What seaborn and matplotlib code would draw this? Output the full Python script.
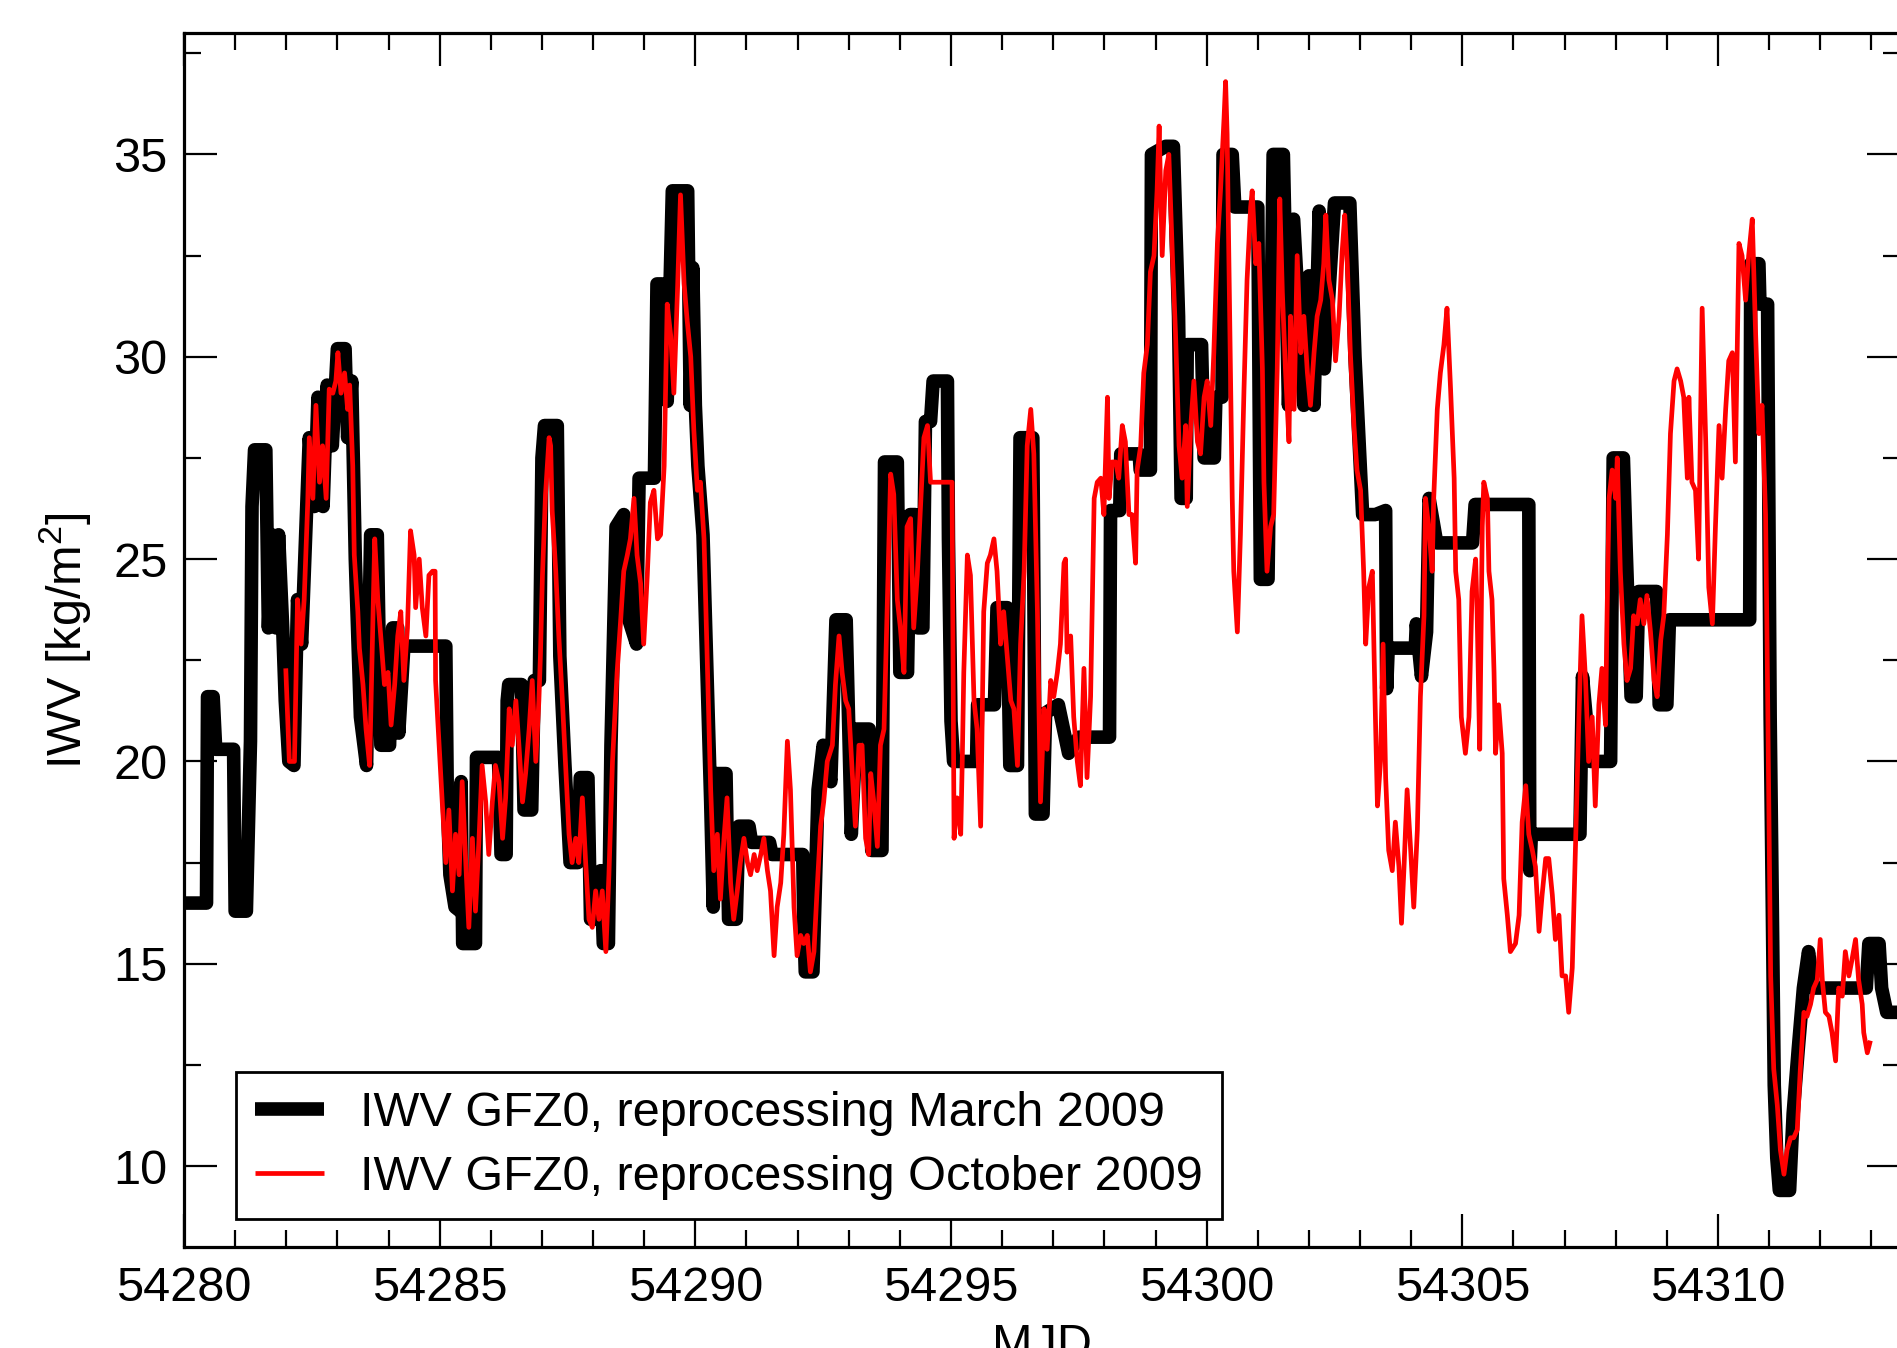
import matplotlib
matplotlib.use("Agg")
import matplotlib.pyplot as plt
import seaborn as sns
from matplotlib.lines import Line2D
from matplotlib.ticker import MultipleLocator, FormatStrFormatter

# IWV GFZ0, reprocessing March 2009 (MJD, kg/m^2)
march_mjd = [
    54280.0, 54280.44, 54280.46, 54280.57, 54280.62, 54280.97, 54281.0, 54281.22, 54281.3, 54281.33,
    54281.38, 54281.6, 54281.65, 54281.72, 54281.8, 54281.85, 54281.93, 54281.98, 54282.05, 54282.15,
    54282.22, 54282.3, 54282.4, 54282.45, 54282.55, 54282.62, 54282.72, 54282.8, 54282.9, 54283.0,
    54283.15, 54283.2, 54283.28, 54283.35, 54283.45, 54283.57, 54283.65, 54283.78, 54283.85, 54284.02,
    54284.08, 54284.18, 54284.2, 54284.3, 54285.12, 54285.15, 54285.2, 54285.3, 54285.4, 54285.42,
    54285.45, 54285.7, 54285.72, 54286.15, 54286.2, 54286.3, 54286.32, 54286.35, 54286.6, 54286.65,
    54286.8, 54286.85, 54286.95, 54287.0, 54287.05, 54287.3, 54287.35, 54287.45, 54287.55, 54287.7,
    54287.75, 54287.9, 54287.95, 54288.1, 54288.15, 54288.2, 54288.3, 54288.35, 54288.45, 54288.6,
    54288.7, 54288.85, 54288.9, 54289.2, 54289.25, 54289.35, 54289.45, 54289.55, 54289.85, 54289.9,
    54289.95, 54290.0, 54290.05, 54290.15, 54290.3, 54290.35, 54290.4, 54290.6, 54290.65, 54290.8,
    54290.85, 54291.05, 54291.1, 54291.45, 54291.5, 54292.1, 54292.12, 54292.15, 54292.3, 54292.4,
    54292.5, 54292.65, 54292.75, 54292.95, 54293.05, 54293.15, 54293.4, 54293.45, 54293.65, 54293.7,
    54293.95, 54294.0, 54294.15, 54294.2, 54294.3, 54294.35, 54294.45, 54294.5, 54294.6, 54294.65,
    54294.93, 54294.95, 54295.0, 54295.05, 54295.5, 54295.52, 54295.85, 54295.9, 54296.1, 54296.15,
    54296.3, 54296.35, 54296.6, 54296.65, 54296.8, 54296.85, 54297.1, 54297.3, 54297.5, 54298.1,
    54298.12, 54298.3, 54298.32, 54298.68, 54298.7, 54298.9, 54298.92, 54299.2, 54299.35, 54299.45,
    54299.5, 54299.6, 54299.62, 54299.9, 54299.95, 54300.15, 54300.18, 54300.3, 54300.32, 54300.5,
    54300.55, 54301.0, 54301.05, 54301.2, 54301.3, 54301.5, 54301.6, 54301.7, 54301.9, 54302.0,
    54302.1, 54302.2, 54302.3, 54302.5, 54302.8, 54302.9, 54303.05, 54303.3, 54303.5, 54303.52,
    54303.55, 54304.08, 54304.1, 54304.2, 54304.3, 54304.35, 54304.5, 54305.2, 54305.25, 54306.3,
    54306.32, 54306.35, 54307.3, 54307.35, 54307.5, 54307.9, 54307.95, 54308.15, 54308.2, 54308.3,
    54308.4, 54308.45, 54308.8, 54308.85, 54309.0, 54309.05, 54310.62, 54310.64, 54310.8, 54310.82,
    54310.97, 54311.02, 54311.05, 54311.1, 54311.15, 54311.2, 54311.4, 54311.47, 54311.57, 54311.67,
    54311.77, 54311.87, 54312.9, 54312.95, 54313.15, 54313.2, 54313.3, 54313.6,
]
march_iwv = [
    16.5, 16.5, 21.6, 21.6, 20.3, 20.3, 16.3, 16.3, 20.5, 26.3,
    27.7, 27.7, 23.3, 25.6, 23.3, 25.6, 23.3, 21.5, 20.0, 19.9,
    24.0, 22.9, 26.3, 28.0, 26.3, 29.0, 26.3, 29.3, 27.8, 30.2,
    30.2, 28.0, 29.4, 25.0, 21.1, 19.9, 25.6, 25.6, 20.4, 20.4,
    23.3, 23.3, 20.7, 22.85, 22.85, 19.0, 17.2, 16.4, 16.3, 19.5,
    15.5, 15.5, 20.1, 20.1, 17.7, 17.7, 21.5, 21.9, 21.9, 18.8,
    18.8, 22.0, 22.0, 27.5, 28.3, 28.3, 22.6, 19.9, 17.5, 17.5,
    19.6, 19.6, 16.1, 16.1, 17.3, 15.5, 15.5, 20.4, 25.8, 26.1,
    23.5, 22.9, 27.0, 27.0, 31.8, 31.8, 28.9, 34.1, 34.1, 28.8,
    32.2, 28.8, 27.3, 25.6, 19.0, 16.4, 19.7, 19.7, 16.1, 16.1,
    18.4, 18.4, 18.0, 18.0, 17.7, 17.7, 16.1, 14.8, 14.8, 19.3,
    20.4, 19.5, 23.5, 23.5, 18.2, 20.8, 20.8, 17.8, 17.8, 27.4,
    27.4, 22.2, 22.2, 26.1, 26.1, 23.3, 23.3, 28.4, 28.4, 29.4,
    29.4, 25.5, 21.0, 20.0, 20.0, 21.4, 21.4, 23.8, 23.8, 19.9,
    19.9, 28.0, 28.0, 18.7, 18.7, 21.2, 21.4, 20.2, 20.6, 20.6,
    26.2, 26.2, 27.6, 27.6, 27.2, 27.2, 35.0, 35.2, 35.2, 31.0,
    26.5, 26.5, 30.3, 30.3, 27.5, 27.5, 29.0, 29.0, 35.0, 35.0,
    33.7, 33.7, 24.5, 24.5, 35.0, 35.0, 28.8, 33.4, 28.8, 32.0,
    28.8, 33.6, 29.7, 33.8, 33.8, 30.0, 26.1, 26.1, 26.2, 21.8,
    22.8, 22.8, 23.4, 22.1, 23.2, 26.5, 25.4, 25.4, 26.35, 26.35,
    17.3, 18.2, 18.2, 22.1, 20.0, 20.0, 27.5, 27.5, 25.4, 21.6,
    21.6, 24.2, 24.2, 21.4, 21.4, 23.5, 23.5, 32.3, 32.3, 31.3,
    31.3, 21.1, 17.8, 12.0, 10.2, 9.4, 9.4, 11.3, 12.9, 14.4,
    15.3, 14.4, 14.4, 15.5, 15.5, 14.4, 13.8, 13.8,
]

# IWV GFZ0, reprocessing October 2009 (MJD, kg/m^2)
october_mjd = [
    54281.99, 54282.06, 54282.16, 54282.22, 54282.29, 54282.35, 54282.42, 54282.45, 54282.52, 54282.58,
    54282.65, 54282.71, 54282.78, 54282.84, 54282.91, 54282.97, 54283.01, 54283.07, 54283.14, 54283.2,
    54283.24, 54283.3, 54283.33, 54283.4, 54283.43, 54283.5, 54283.56, 54283.63, 54283.69, 54283.73,
    54283.79, 54283.86, 54283.92, 54283.99, 54284.05, 54284.12, 54284.18, 54284.24, 54284.3, 54284.37,
    54284.43, 54284.5, 54284.53, 54284.6, 54284.66, 54284.73, 54284.79, 54284.86, 54284.91, 54284.92,
    54284.99, 54285.05, 54285.12, 54285.18, 54285.25, 54285.31, 54285.38, 54285.44, 54285.51, 54285.57,
    54285.64, 54285.7, 54285.77, 54285.83, 54285.9, 54285.96, 54286.03, 54286.09, 54286.16, 54286.23,
    54286.29, 54286.36, 54286.42, 54286.49, 54286.55, 54286.62, 54286.68, 54286.75, 54286.81, 54286.88,
    54286.94, 54286.97, 54287.01, 54287.07, 54287.14, 54287.17, 54287.2, 54287.27, 54287.33, 54287.4,
    54287.46, 54287.53, 54287.59, 54287.66, 54287.72, 54287.79, 54287.855, 54287.92, 54287.985, 54288.05,
    54288.115, 54288.18, 54288.25, 54288.31, 54288.38, 54288.47, 54288.54, 54288.6, 54288.67, 54288.73,
    54288.8, 54288.86, 54288.93, 54288.99, 54289.06, 54289.12, 54289.19, 54289.26, 54289.32, 54289.39,
    54289.45, 54289.52, 54289.58, 54289.65, 54289.71, 54289.78, 54289.84, 54289.91, 54289.97, 54290.04,
    54290.1, 54290.17, 54290.23, 54290.3, 54290.36, 54290.43, 54290.49, 54290.56, 54290.62, 54290.69,
    54290.75, 54290.82, 54290.88, 54290.95, 54291.02, 54291.08, 54291.15, 54291.21, 54291.28, 54291.34,
    54291.41, 54291.47, 54291.54, 54291.6, 54291.67, 54291.73, 54291.8, 54291.86, 54291.93, 54291.99,
    54292.06, 54292.12, 54292.19, 54292.25, 54292.32, 54292.38, 54292.45, 54292.51, 54292.58, 54292.68,
    54292.74, 54292.81, 54292.87, 54292.94, 54293.0, 54293.07, 54293.13, 54293.2, 54293.26, 54293.33,
    54293.39, 54293.43, 54293.49, 54293.56, 54293.62, 54293.69, 54293.75, 54293.82, 54293.88, 54293.95,
    54294.01, 54294.08, 54294.14, 54294.21, 54294.27, 54294.34, 54294.4, 54294.47, 54294.54, 54294.6,
    54295.02, 54295.06, 54295.12, 54295.19, 54295.22, 54295.25, 54295.32, 54295.38, 54295.45, 54295.51,
    54295.58, 54295.64, 54295.71, 54295.77, 54295.84, 54295.9, 54295.97, 54296.03, 54296.1, 54296.17,
    54296.23, 54296.3, 54296.36, 54296.43, 54296.49, 54296.56, 54296.62, 54296.69, 54296.75, 54296.82,
    54296.88, 54296.95, 54297.01, 54297.08, 54297.14, 54297.21, 54297.24, 54297.27, 54297.34, 54297.4,
    54297.47, 54297.53, 54297.6, 54297.66, 54297.73, 54297.8, 54297.86, 54297.93, 54297.99, 54298.06,
    54298.09, 54298.15, 54298.22, 54298.28, 54298.35, 54298.41, 54298.48, 54298.54, 54298.61, 54298.64,
    54298.71, 54298.77, 54298.84, 54298.9, 54298.97, 54299.03, 54299.07, 54299.13, 54299.2, 54299.26,
    54299.33, 54299.39, 54299.46, 54299.52, 54299.59, 54299.62, 54299.69, 54299.75, 54299.82, 54299.88,
    54299.95, 54300.01, 54300.08, 54300.14, 54300.21, 54300.27, 54300.34, 54300.37, 54300.4, 54300.44,
    54300.5, 54300.53, 54300.6, 54300.66, 54300.73, 54300.79, 54300.86, 54300.89, 54300.96, 54301.02,
    54301.09, 54301.12, 54301.18, 54301.25, 54301.31, 54301.38, 54301.43, 54301.48, 54301.54, 54301.61,
    54301.64, 54301.71, 54301.77, 54301.84, 54301.9, 54301.97, 54302.03, 54302.1, 54302.16, 54302.23,
    54302.29, 54302.33, 54302.39, 54302.46, 54302.52, 54302.59, 54302.65, 54302.7, 54302.75, 54302.81,
    54302.88, 54302.94, 54303.01, 54303.07, 54303.11, 54303.17, 54303.24, 54303.3, 54303.34, 54303.4,
    54303.45, 54303.5, 54303.56, 54303.63, 54303.69, 54303.76, 54303.81, 54303.86, 54303.92, 54303.99,
    54304.05, 54304.12, 54304.18, 54304.25, 54304.28, 54304.35, 54304.41, 54304.44, 54304.51, 54304.57,
    54304.64, 54304.7, 54304.77, 54304.84, 54304.87, 54304.93, 54304.98, 54305.06, 54305.13, 54305.19,
    54305.26, 54305.29, 54305.34, 54305.39, 54305.42, 54305.49, 54305.52, 54305.58, 54305.62, 54305.65,
    54305.71, 54305.78, 54305.81, 54305.88, 54305.94, 54306.04, 54306.11, 54306.17, 54306.24, 54306.3,
    54306.37, 54306.43, 54306.5, 54306.56, 54306.63, 54306.69, 54306.76, 54306.82, 54306.89, 54306.95,
    54307.02, 54307.08, 54307.15, 54307.21, 54307.28, 54307.34, 54307.41, 54307.47, 54307.54, 54307.6,
    54307.67, 54307.73, 54307.8, 54307.83, 54307.87, 54307.93, 54308.0, 54308.03, 54308.09, 54308.16,
    54308.22, 54308.29, 54308.35, 54308.42, 54308.48, 54308.55, 54308.61, 54308.68, 54308.75, 54308.81,
    54308.88, 54308.94, 54309.01, 54309.07, 54309.14, 54309.2, 54309.27, 54309.33, 54309.4, 54309.43,
    54309.49, 54309.56, 54309.62, 54309.69, 54309.76, 54309.82, 54309.89, 54309.95, 54310.02, 54310.08,
    54310.15, 54310.21, 54310.28, 54310.34, 54310.41, 54310.47, 54310.54, 54310.6, 54310.67, 54310.73,
    54310.8, 54310.86, 54310.93, 54310.96, 54310.99, 54311.03, 54311.09, 54311.16, 54311.22, 54311.29,
    54311.35, 54311.42, 54311.48, 54311.55, 54311.61, 54311.68, 54311.74, 54311.81, 54311.87, 54311.94,
    54312.0, 54312.04, 54312.1, 54312.17, 54312.23, 54312.3, 54312.36, 54312.43, 54312.49, 54312.56,
    54312.62, 54312.69, 54312.75, 54312.82, 54312.85, 54312.92, 54312.98,
]
october_iwv = [
    22.3, 20.0, 20.0, 24.0, 22.9, 24.0, 26.4, 28.0, 26.5, 28.8,
    26.9, 27.8, 26.5, 29.2, 29.1, 29.4, 30.1, 29.1, 29.6, 28.7,
    29.3, 27.3, 25.1, 23.7, 22.8, 21.9, 20.8, 19.9, 23.3, 25.5,
    24.0, 22.9, 21.9, 22.2, 20.9, 21.9, 23.1, 23.7, 22.0, 23.3,
    25.7, 25.1, 23.8, 25.0, 23.8, 23.1, 24.6, 24.7, 24.7, 22.0,
    20.4, 19.0, 17.5, 18.8, 16.8, 18.2, 17.2, 19.5, 17.5, 15.9,
    18.1, 16.3, 18.1, 19.9, 19.0, 17.7, 19.0, 19.9, 19.5, 18.1,
    19.1, 21.3, 20.4, 21.5, 20.4, 19.0, 19.7, 20.8, 22.0, 20.0,
    21.5, 22.6, 24.6, 26.6, 28.0, 27.8, 26.2, 24.7, 23.1, 21.5,
    20.0, 18.2, 17.5, 18.1, 17.5, 19.1, 17.5, 16.1, 15.9, 16.8,
    16.1, 16.8, 15.3, 17.2, 20.0, 22.2, 23.5, 24.7, 25.1, 25.5,
    26.5, 25.1, 24.4, 22.9, 24.6, 26.4, 26.7, 25.5, 25.6, 27.3,
    31.3, 30.5, 29.1, 31.6, 34.0, 31.8, 30.9, 30.0, 28.2, 26.7,
    26.9, 25.5, 22.6, 19.3, 17.3, 18.2, 16.6, 18.1, 19.1, 17.0,
    16.1, 16.8, 17.5, 18.1, 17.5, 17.2, 17.7, 17.3, 17.7, 18.1,
    17.3, 16.8, 15.2, 16.4, 17.0, 18.2, 20.5, 19.3, 16.4, 15.2,
    15.7, 15.5, 15.7, 14.8, 15.3, 16.8, 18.4, 19.0, 20.0, 20.4,
    21.9, 23.1, 22.2, 21.5, 21.3, 19.7, 18.4, 20.4, 20.4, 18.1,
    17.7, 19.7, 19.0, 17.9, 20.4, 20.8, 23.7, 27.1, 26.6, 24.0,
    23.3, 22.2, 25.8, 26.0, 23.3, 24.6, 26.2, 28.0, 28.3, 26.9,
    26.9, 18.1, 19.1, 18.2, 20.0, 22.2, 25.1, 24.6, 21.5, 20.8,
    18.4, 23.7, 24.9, 25.1, 25.5, 24.7, 22.9, 23.7, 22.6, 21.5,
    21.3, 19.9, 22.9, 24.7, 27.8, 28.7, 27.6, 23.7, 19.0, 21.3,
    20.3, 22.0, 21.6, 22.2, 22.9, 24.9, 25.0, 22.7, 23.1, 21.1,
    20.0, 19.4, 22.3, 19.6, 21.6, 26.5, 26.9, 27.0, 26.1, 29.0,
    26.5, 27.4, 27.4, 27.0, 28.3, 27.9, 26.1, 26.1, 24.9, 27.2,
    27.8, 29.6, 30.3, 32.1, 32.5, 34.1, 35.7, 32.5, 34.6, 35.0,
    32.5, 30.6, 27.8, 27.0, 28.3, 26.3, 28.3, 29.4, 27.9, 27.6,
    29.0, 29.4, 28.3, 30.1, 32.8, 34.1, 35.9, 36.8, 35.5, 31.9,
    26.5, 24.7, 23.2, 25.6, 29.2, 31.9, 33.7, 34.1, 32.3, 32.8,
    29.7, 26.9, 24.7, 25.8, 26.1, 29.7, 33.9, 31.6, 29.7, 27.9,
    31.0, 28.7, 32.5, 30.1, 31.0, 29.6, 28.8, 30.1, 31.0, 31.4,
    32.3, 33.5, 31.9, 31.4, 29.9, 31.0, 32.6, 33.5, 32.3, 30.1,
    28.3, 27.2, 26.7, 24.7, 22.9, 24.3, 24.7, 21.1, 18.9, 20.0,
    22.9, 19.6, 17.8, 17.3, 18.5, 17.4, 16.0, 17.4, 19.3, 17.8,
    16.4, 18.3, 21.6, 23.6, 26.5, 25.7, 24.7, 26.5, 28.7, 29.6,
    30.3, 31.2, 29.2, 27.0, 24.7, 24.0, 21.1, 20.2, 21.1, 24.2,
    25.0, 23.6, 20.3, 25.8, 26.9, 26.5, 24.7, 24.0, 22.2, 20.2,
    21.4, 20.2, 17.1, 16.2, 15.3, 15.5, 16.2, 18.5, 19.4, 18.2,
    17.8, 17.4, 15.8, 16.7, 17.6, 17.6, 16.7, 15.6, 16.2, 14.7,
    14.7, 13.8, 14.9, 17.8, 21.1, 23.6, 22.0, 20.0, 21.1, 18.9,
    21.4, 22.3, 20.9, 23.6, 26.5, 27.2, 26.5, 27.5, 24.7, 22.9,
    22.0, 22.3, 23.6, 23.4, 24.0, 23.4, 24.1, 23.2, 22.0, 21.6,
    23.0, 23.6, 25.6, 28.1, 29.4, 29.7, 29.4, 29.0, 27.0, 29.0,
    26.9, 26.7, 25.0, 31.2, 27.9, 24.3, 23.4, 25.8, 28.3, 27.0,
    28.7, 29.9, 30.1, 27.4, 32.8, 32.5, 31.4, 32.5, 33.4, 30.8,
    28.1, 28.8, 26.1, 22.9, 19.3, 14.7, 12.4, 11.5, 10.4, 9.8,
    10.4, 10.7, 10.7, 10.9, 12.4, 13.8, 13.7, 14.0, 14.4, 14.6,
    15.6, 14.6, 13.8, 13.7, 13.3, 12.6, 14.4, 14.2, 15.3, 14.7,
    15.1, 15.6, 14.6, 14.0, 13.3, 12.8, 13.1,
]

label_march = "IWV GFZ0, reprocessing March 2009"
label_october = "IWV GFZ0, reprocessing October 2009"

sns.set_style("ticks")
plt.rcParams["font.family"] = ["Liberation Sans", "DejaVu Sans"]
plt.rcParams["mathtext.fontset"] = "custom"
plt.rcParams["mathtext.rm"] = "Liberation Sans"
plt.rcParams["text.color"] = "black"
plt.rcParams["axes.labelcolor"] = "black"
plt.rcParams["xtick.color"] = "black"
plt.rcParams["ytick.color"] = "black"

fig = plt.figure(figsize=(18.97, 13.48), dpi=100)
ax = fig.add_axes([0.0970, 0.0749, 0.9046, 0.9006])

# thick black = March reprocessing, thin red = October reprocessing
sns.lineplot(x=march_mjd, y=march_iwv, ax=ax, color="black", linewidth=9.8,
             estimator=None, sort=False, legend=False)
sns.lineplot(x=october_mjd, y=october_iwv, ax=ax, color="#ff0000", linewidth=3.4,
             estimator=None, sort=False, legend=False)
for ln in ax.lines:
    ln.set_solid_joinstyle("round")
    ln.set_solid_capstyle("butt")

ax.set_xlim(54280, 54313.56)
ax.set_ylim(8, 38)
ax.xaxis.set_major_locator(MultipleLocator(5))
ax.xaxis.set_minor_locator(MultipleLocator(1))
ax.yaxis.set_major_locator(MultipleLocator(5))
ax.yaxis.set_minor_locator(MultipleLocator(2.5))
ax.xaxis.set_major_formatter(FormatStrFormatter("%d"))
ax.yaxis.set_major_formatter(FormatStrFormatter("%d"))

ax.tick_params(which="both", direction="in", top=True, right=True, width=1.6,
               labelsize=35, colors="black")
ax.tick_params(which="major", length=24)
ax.tick_params(which="minor", length=12)
ax.tick_params(axis="x", which="major", pad=14)
ax.tick_params(axis="y", which="major", pad=12)
for sp in ax.spines.values():
    sp.set_linewidth(2.3)
    sp.set_color("black")

ax.set_xlabel("MJD", fontsize=35, labelpad=8)
ax.set_ylabel("IWV [kg/m$^2$]", fontsize=35, labelpad=14)

handles = [
    Line2D([], [], color="black", linewidth=9.8, solid_capstyle="butt"),
    Line2D([], [], color="#ff0000", linewidth=3.4, solid_capstyle="butt"),
]
leg = ax.legend(handles, [label_march, label_october], loc="lower left",
                bbox_to_anchor=(0.0303, 0.0231), borderaxespad=0, fontsize=35,
                frameon=True, fancybox=False, edgecolor="black", framealpha=1,
                handlelength=1.4, handletextpad=0.75, borderpad=0.4, labelspacing=0.38)
leg.get_frame().set_linewidth(2.0)
for t in leg.get_texts():
    t.set_color("black")

plt.savefig("out.png", dpi=100)
plt.close()
